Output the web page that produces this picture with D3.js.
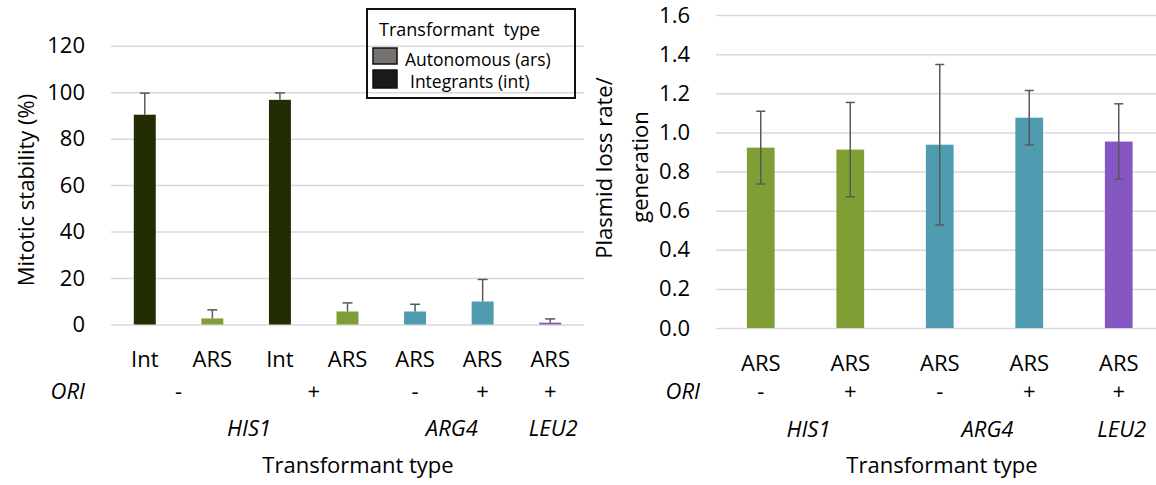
<!DOCTYPE html>
<html>
<head>
<meta charset="utf-8">
<script src="https://cdn.jsdelivr.net/npm/d3@7"></script>
<style>
  body { margin: 0; background: #fff; }
  text { font-family: "Open Sans", sans-serif; fill: #000; }
</style>
</head>
<body>
<div id="chart-holder"></div>
<script>
// left panel: mitotic stability (%)
var leftCategories = ["Int", "ARS", "Int", "ARS", "ARS", "ARS", "ARS"];
var leftOri = ["-", "-", "+", "+", "-", "+", "+"];
var leftGene = ["HIS1", "HIS1", "HIS1", "HIS1", "ARG4", "ARG4", "LEU2"];
var leftValues = [90.3, 2.6, 96.7, 5.6, 5.6, 9.9, 0.8];
var leftErrors = [9.3, 3.7, 3.0, 3.7, 3.1, 9.5, 1.6];
var leftTicks = [0, 20, 40, 60, 80, 100, 120];

// right panel: plasmid loss rate / generation
var rightCategories = ["ARS", "ARS", "ARS", "ARS", "ARS"];
var rightOri = ["-", "+", "-", "+", "+"];
var rightGene = ["HIS1", "HIS1", "ARG4", "ARG4", "LEU2"];
var rightValues = [0.922, 0.912, 0.937, 1.075, 0.953];
var rightErrors = [0.186, 0.241, 0.41, 0.139, 0.193];
var rightTicks = [0, 0.2, 0.4, 0.6, 0.8, 1.0, 1.2, 1.4, 1.6];

var legendItems = ["Autonomous (ars)", "Integrants (int)"];

var colors = {
  Int: "#232d03",
  HIS1: "#7f9f35",
  ARG4: "#4f9bb0",
  LEU2: "#8457c2"
};
var gridColor = "#d9d9d9";
var errColor = "#595959";

var svg = d3.select("#chart-holder").append("svg")
  .attr("width", 1156)
  .attr("height", 485);

svg.append("rect").attr("width", 1156).attr("height", 485).attr("fill", "#fff");

// groups consecutive categories that share a key
function groups(keys) {
  var out = [];
  keys.forEach(function(k, i) {
    if (out.length && out[out.length - 1].key == k) {
      out[out.length - 1].end = i;
    } else {
      out.push({ key: k, start: i, end: i });
    }
  });
  return out;
}

function panel(opt) {
  var g = svg.append("g");
  var idx = d3.range(opt.categories.length);
  var x = d3.scaleBand().domain(idx).range([opt.left, opt.right]);
  var y = d3.scaleLinear().domain(opt.domain).range([opt.bottom, opt.top]);
  var bw = x.bandwidth() * opt.barRatio;
  var cx = function(i) { return x(i) + x.bandwidth() / 2; };

  // gridlines + tick labels
  var ax = g.append("g")
    .attr("transform", "translate(" + opt.left + ",0)")
    .call(d3.axisLeft(y)
      .tickValues(opt.ticks)
      .tickSize(-(opt.right - opt.left))
      .tickPadding(26)
      .tickFormat(opt.format));
  ax.select(".domain").remove();
  ax.selectAll(".tick line").attr("stroke", gridColor).attr("stroke-width", 1.5);
  ax.selectAll(".tick text").attr("font-size", 22).attr("font-family", "Open Sans");

  // bars
  g.selectAll("rect.bar")
    .data(opt.values)
    .enter()
    .append("rect")
      .attr("class", "bar")
      .attr("x", function(d, i) { return cx(i) - bw / 2; })
      .attr("width", bw)
      .attr("y", function(d) { return y(d); })
      .attr("height", function(d) { return y(0) - y(d); })
      .attr("fill", function(d, i) {
        if (opt.categories[i] == "Int") {
          return colors.Int;
        }
        return colors[opt.genes[i]];
      });

  // error bars
  var eb = g.selectAll("g.err")
    .data(opt.values)
    .enter()
    .append("g")
      .attr("class", "err")
      .attr("stroke", errColor)
      .attr("stroke-width", 1.5);
  eb.append("line")
    .attr("x1", function(d, i) { return cx(i); })
    .attr("x2", function(d, i) { return cx(i); })
    .attr("y1", function(d, i) { return y(opt.both ? d - opt.errors[i] : d); })
    .attr("y2", function(d, i) { return y(d + opt.errors[i]); });
  eb.append("line")
    .attr("x1", function(d, i) { return cx(i) - opt.cap / 2; })
    .attr("x2", function(d, i) { return cx(i) + opt.cap / 2; })
    .attr("y1", function(d, i) { return y(d + opt.errors[i]); })
    .attr("y2", function(d, i) { return y(d + opt.errors[i]); });
  if (opt.both) {
    eb.append("line")
      .attr("x1", function(d, i) { return cx(i) - opt.cap / 2; })
      .attr("x2", function(d, i) { return cx(i) + opt.cap / 2; })
      .attr("y1", function(d, i) { return y(d - opt.errors[i]); })
      .attr("y2", function(d, i) { return y(d - opt.errors[i]); });
  }

  // category labels
  g.selectAll("text.cat")
    .data(opt.categories)
    .enter()
    .append("text")
      .attr("class", "cat")
      .attr("x", function(d, i) { return cx(i); })
      .attr("y", opt.catY)
      .attr("text-anchor", "middle")
      .attr("font-size", 22)
      .text(function(d) { return d; });

  // ORI row
  var oriKeys = opt.ori.map(function(o, i) { return opt.genes[i] + o; });
  g.selectAll("text.ori")
    .data(groups(oriKeys))
    .enter()
    .append("text")
      .attr("class", "ori")
      .attr("x", function(d) { return (cx(d.start) + cx(d.end)) / 2; })
      .attr("y", opt.oriY)
      .attr("text-anchor", "middle")
      .attr("font-size", 22)
      .text(function(d) { return d.key.slice(-1); });

  g.append("text")
    .attr("x", opt.oriX)
    .attr("y", opt.oriY)
    .attr("text-anchor", "end")
    .attr("font-size", 22)
    .attr("font-style", "italic")
    .text("ORI");

  // gene row
  g.selectAll("text.gene")
    .data(groups(opt.genes))
    .enter()
    .append("text")
      .attr("class", "gene")
      .attr("x", function(d) { return (cx(d.start) + cx(d.end)) / 2 + 3; })
      .attr("y", opt.geneY)
      .attr("text-anchor", "middle")
      .attr("font-size", 22)
      .attr("font-style", "italic")
      .text(function(d) { return d.key; });

  // x title
  g.append("text")
    .attr("x", opt.titleX)
    .attr("y", 473)
    .attr("text-anchor", "middle")
    .attr("font-size", 22)
    .text("Transformant type");

  return { x: x, y: y, g: g };
}

var left = panel({
  categories: leftCategories, ori: leftOri, genes: leftGene,
  values: leftValues, errors: leftErrors, ticks: leftTicks,
  domain: [0, 120], format: d3.format("d"),
  left: 111, right: 584, top: 45.7, bottom: 324.5,
  barRatio: 0.325, cap: 10, both: false,
  catY: 367, oriY: 399, geneY: 436, oriX: 85, titleX: 358
});

var right = panel({
  categories: rightCategories, ori: rightOri, genes: rightGene,
  values: rightValues, errors: rightErrors, ticks: rightTicks,
  domain: [0, 1.6], format: d3.format(".1f"),
  left: 716, right: 1163.5, top: 15, bottom: 328,
  barRatio: 0.31, cap: 9, both: true,
  catY: 371, oriY: 399, geneY: 437, oriX: 700, titleX: 942
});

// y titles
svg.append("text")
  .attr("transform", "translate(34,190) rotate(-90)")
  .attr("text-anchor", "middle")
  .attr("font-size", 22)
  .text("Mitotic stability (%)");

svg.append("text")
  .attr("transform", "translate(612,168) rotate(-90)")
  .attr("text-anchor", "middle")
  .attr("font-size", 22)
  .text("Plasmid loss rate/");
svg.append("text")
  .attr("transform", "translate(648,167) rotate(-90)")
  .attr("text-anchor", "middle")
  .attr("font-size", 22)
  .text("generation");

// legend (transparent box, gridlines show through)
var lg = svg.append("g");
lg.append("rect")
  .attr("x", 367).attr("y", 9)
  .attr("width", 208).attr("height", 89)
  .attr("fill", "none")
  .attr("stroke", "#111")
  .attr("stroke-width", 2);
lg.append("text")
  .attr("x", 379).attr("y", 36)
  .attr("font-size", 18)
  .attr("xml:space", "preserve")
  .style("white-space", "pre")
  .text("Transformant  type");
lg.selectAll("rect.sw")
  .data(legendItems)
  .enter()
  .append("rect")
    .attr("class", "sw")
    .attr("x", 373)
    .attr("y", function(d, i) { return 48 + i * 22; })
    .attr("width", 24)
    .attr("height", function(d, i) { return i == 0 ? 16 : 18; })
    .attr("fill", function(d, i) { return i == 0 ? "#767270" : "#1a1a1a"; })
    .attr("stroke", "#111")
    .attr("stroke-width", 1.5);
lg.selectAll("text.li")
  .data(legendItems)
  .enter()
  .append("text")
    .attr("class", "li")
    .attr("x", function(d, i) { return i == 0 ? 405 : 410; })
    .attr("y", function(d, i) { return 66 + i * 22; })
    .attr("font-size", 17.5)
    .text(function(d) { return d; });
</script>
</body>
</html>
